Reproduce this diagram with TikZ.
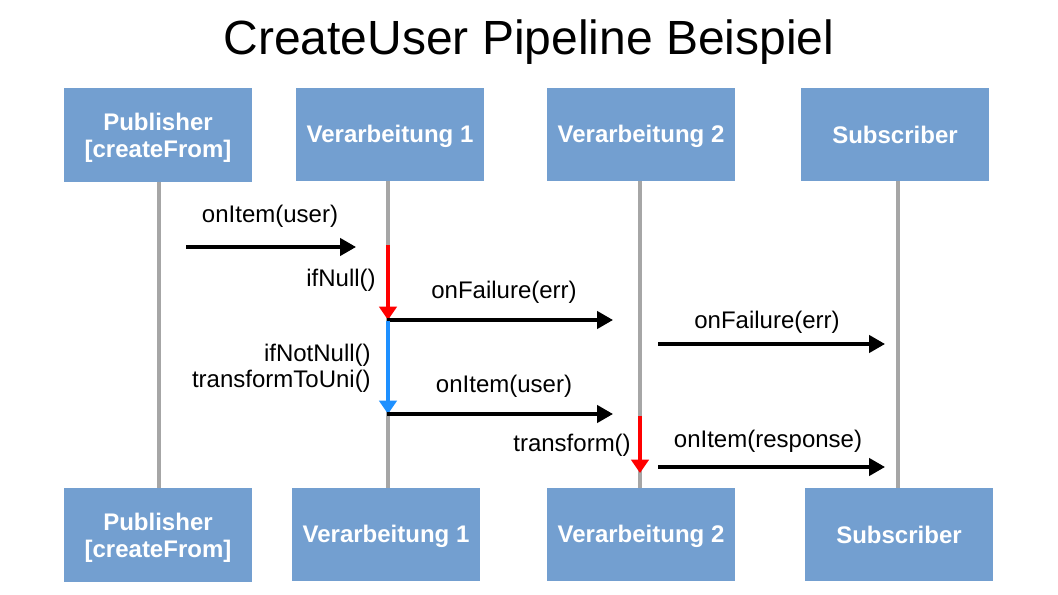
\documentclass[tikz,border=0pt]{standalone}
\usepackage{fontspec}
\setmainfont{Liberation Sans}
\usetikzlibrary{arrows.meta}
\definecolor{boxblue}{RGB}{115,159,208}
\definecolor{lifegray}{RGB}{166,166,166}
\definecolor{flowred}{RGB}{255,0,0}
\definecolor{flowblue}{RGB}{30,144,255}
\begin{document}
\begin{tikzpicture}[x=0.75pt,y=-0.75pt,
  actor/.style={fill=boxblue, draw=none, minimum width=141pt, minimum height=70pt, inner sep=0pt},
  actortext/.style={text=white, font=\fontsize{18}{20}\selectfont\bfseries, align=center, inner sep=0pt},
  lifeline/.style={draw=lifegray, line width=2.8pt},
  msg/.style={draw=black, line width=2.6pt, -{Triangle[length=12pt,width=13pt]}},
  redflow/.style={draw=flowred, line width=2.8pt, -{Triangle[length=10pt,width=13pt]}},
  blueflow/.style={draw=flowblue, line width=2.8pt, -{Triangle[length=10pt,width=13pt]}},
  lbl/.style={font=\fontsize{18}{20}\selectfont, inner sep=0pt, anchor=base},
  lblr/.style={font=\fontsize{18}{20}\selectfont, inner sep=0pt, anchor=base east, align=right}
]
\useasboundingbox (0,0) rectangle (1058,595);
\fill[white] (0,0) rectangle (1058,595);

\node[font=\fontsize{36}{40}\selectfont, inner sep=0pt, anchor=base] (title) at (529,55) {CreateUser Pipeline Beispiel};

% top actors
\node[actor] (pubT) at (158,135) {};
\node[actor] (v1T) at (390,134.5) {};
\node[actor] (v2T) at (641,134.5) {};
\node[actor] (subT) at (895,134.5) {};
\node[actortext] (pubTt) at ([yshift=-2.2pt]pubT.center) {Publisher\\{}[createFrom]};
\node[actortext] (v1Tt) at ([yshift=-1.5pt]v1T.center) {Verarbeitung 1};
\node[actortext] (v2Tt) at ([yshift=-1.5pt]v2T.center) {Verarbeitung 2};
\node[actortext] (subTt) at ([yshift=0pt]subT.center) {Subscriber};
% bottom actors
\node[actor] (pubB) at (158,535) {};
\node[actor] (v1B) at (386,534.5) {};
\node[actor] (v2B) at (641,534.5) {};
\node[actor] (subB) at (899,534.5) {};
\node[actortext] (pubBt) at ([yshift=-2.2pt]pubB.center) {Publisher\\{}[createFrom]};
\node[actortext] (v1Bt) at ([yshift=-1.5pt]v1B.center) {Verarbeitung 1};
\node[actortext] (v2Bt) at ([yshift=-1.5pt]v2B.center) {Verarbeitung 2};
\node[actortext] (subBt) at ([yshift=0pt]subB.center) {Subscriber};

% lifelines
\coordinate (l1t) at (159,182); \coordinate (l1b) at (159,488);
\coordinate (l2t) at (388,181); \coordinate (l2b) at (388,488);
\coordinate (l3t) at (640,181); \coordinate (l3b) at (640,488);
\coordinate (l4t) at (898,181); \coordinate (l4b) at (898,488);
\draw[lifeline] (l1t) -- (l1b);
\draw[lifeline] (l2t) -- (l2b);
\draw[lifeline] (l3t) -- (l3b);
\draw[lifeline] (l4t) -- (l4b);

% messages
\coordinate (m1s) at (186,247); \coordinate (m1e) at (356,247);
\draw[msg] (m1s) -- (m1e);
\node[lbl] (m1l) at (270,223) {onItem(user)};

\coordinate (r1s) at (388,245); \coordinate (r1e) at (388,320);
\draw[redflow] (r1s) -- (r1e);
\node[lblr] (r1l) at (376,287) {ifNull()};

\coordinate (m2s) at (387,320); \coordinate (m2e) at (613,320);
\draw[msg] (m2s) -- (m2e);
\node[lbl] (m2l) at (504,299) {onFailure(err)};

\coordinate (b1s) at (388,321); \coordinate (b1e) at (388,414);
\draw[blueflow] (b1s) -- (b1e);
\node[lblr] (b1l) at (371,362) {ifNotNull()};
\node[lblr] (b2l) at (371,388) {transformToUni()};

\coordinate (m3s) at (387,414); \coordinate (m3e) at (613,414);
\draw[msg] (m3s) -- (m3e);
\node[lbl] (m3l) at (504,393) {onItem(user)};

\coordinate (r2s) at (640,416); \coordinate (r2e) at (640,473);
\draw[redflow] (r2s) -- (r2e);
\node[lblr] (r2l) at (631,452) {transform()};

\coordinate (m4s) at (658,344); \coordinate (m4e) at (885,344);
\draw[msg] (m4s) -- (m4e);
\node[lbl] (m4l) at (767,329) {onFailure(err)};

\coordinate (m5s) at (658,467); \coordinate (m5e) at (885,467);
\draw[msg] (m5s) -- (m5e);
\node[lbl] (m5l) at (768,448) {onItem(response)};
\end{tikzpicture}
\end{document}
